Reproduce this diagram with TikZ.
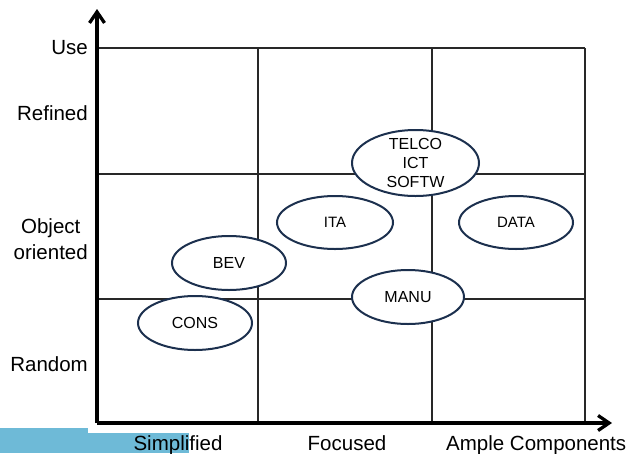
\documentclass[tikz,border=0pt]{standalone}
\usepackage{fontspec}
\setmainfont{Liberation Sans}
\usetikzlibrary{shapes.geometric,arrows.meta}
\definecolor{navy}{RGB}{28,48,78}
\definecolor{barblue}{RGB}{110,186,215}
\definecolor{gridc}{RGB}{40,40,40}
\begin{document}
\begin{tikzpicture}[x=1pt,y=-1pt,
  gridline/.style={draw=gridc,line width=1.8pt},
  axisline/.style={draw=black,line width=3.3pt,-{Straight Barb[length=11pt,width=15pt]}},
  oval/.style={ellipse,draw=navy,line width=2pt,fill=white,inner sep=0pt,
    font=\fontsize{16}{19}\selectfont},
  lefttxt/.style={anchor=east,font=\fontsize{20.5}{25.5}\selectfont,align=center,inner sep=0pt},
  axtxt/.style={anchor=base,font=\fontsize{20.5}{24}\selectfont,inner sep=0pt}]
\useasboundingbox (0,0) rectangle (634,453);
% blue bar
\fill[barblue] (0,428) rectangle (88,453);
\fill[barblue] (0,433) rectangle (189,453);
% grid
\coordinate (o) at (97,423);
\coordinate (xend) at (612,423);
\coordinate (yend) at (97,9);
\draw[gridline] (97,48) -- (585,48);
\draw[gridline] (97,174) -- (585,174);
\draw[gridline] (97,299) -- (585,299);
\draw[gridline] (258,48) -- (258,423);
\draw[gridline] (432,48) -- (432,423);
\draw[gridline] (585,48) -- (585,423);
% axes
\draw[axisline] (o) -- (xend);
\draw[axisline] (o) -- (yend);
% left labels
\node[lefttxt] (use) at (88,48) {Use};
\node[lefttxt] (refined) at (88,113) {Refined};
\node[lefttxt] (objor) at (88,239) {Object\\oriented};
\node[lefttxt] (random) at (88,364) {Random};
% bottom labels
\node[axtxt] (simpl) at (178,450) {Simplified};
\node[axtxt] (focus) at (347,450) {Focused};
\node[axtxt,anchor=base west] (ample) at (446,450) {Ample Components};
% ellipses
\node[oval,minimum width=127pt,minimum height=66pt] (telco) at (415.5,163) {};
\node[align=center,inner sep=0pt,font=\fontsize{16}{19}\selectfont] (telcotxt) at (telco.center) {TELCO\\ICT\\SOFTW};
\node[oval,minimum width=116pt,minimum height=53pt,font=\fontsize{15}{18}\selectfont] (ita) at (335,222.5) {ITA};
\node[oval,minimum width=114pt,minimum height=53pt,font=\fontsize{15}{18}\selectfont] (data) at (516,222.5) {DATA};
\node[oval,minimum width=112pt,minimum height=54pt] (manu) at (408,297) {MANU};
\node[oval,minimum width=114pt,minimum height=54pt] (bev) at (229,263) {BEV};
\node[oval,minimum width=114pt,minimum height=54pt] (cons) at (195,323) {CONS};
\end{tikzpicture}
\end{document}
